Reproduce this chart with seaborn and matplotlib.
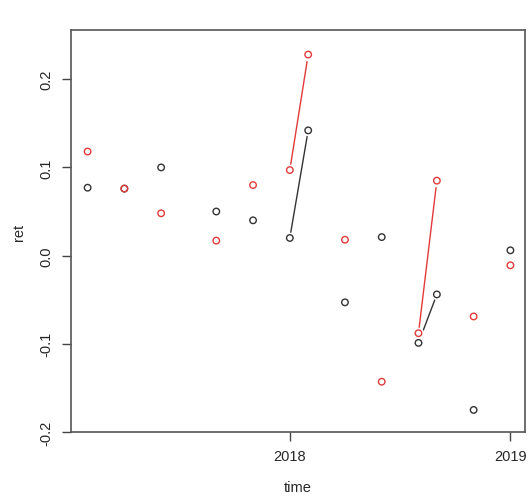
import numpy as np
import pandas as pd
import seaborn as sns
import matplotlib
matplotlib.use("Agg")
import matplotlib.pyplot as plt

# monthly series, Feb 2017 .. Jan 2019 (NaN = no observation)
months = np.arange(1, 25)
ret_black = [0.077, np.nan, 0.076, np.nan, 0.100, np.nan, np.nan, 0.050, np.nan, 0.040, np.nan, 0.020,
             0.142, np.nan, -0.053, np.nan, 0.021, np.nan, -0.099, -0.044, np.nan, -0.175, np.nan, 0.006]
ret_red = [0.118, np.nan, 0.076, np.nan, 0.048, np.nan, np.nan, 0.017, np.nan, 0.080, np.nan, 0.097,
           0.228, np.nan, 0.018, np.nan, -0.143, np.nan, -0.088, 0.085, np.nan, -0.069, np.nan, -0.011]
yticks = [-0.2, -0.1, 0.0, 0.1, 0.2]
ytick_labels = ["-0.2", "-0.1", "0.0", "0.1", "0.2"]
xticks = [2018, 2019]

time = 2017 + months / 12
df = pd.DataFrame({"time": np.tile(time, 2),
                   "ret": ret_black + ret_red,
                   "series": ["black"] * 24 + ["red"] * 24})

sns.set_style("ticks")
plt.rcParams["font.family"] = ["Liberation Sans", "DejaVu Sans"]

fig = plt.figure(figsize=(5.27, 5.02), dpi=100)
ax = fig.add_axes([0.1347, 0.1375, 0.861, 0.8005])

colors = {"black": "#333333", "red": "#e23a3a"}

# lines (broken at missing months)
for name, vals in [("black", ret_black), ("red", ret_red)]:
    ax.plot(time, vals, color=colors[name], lw=1.0, zorder=1)

pts = df.dropna()
# white halo so lines stop short of the circles, like R type="b"
sns.scatterplot(data=pts, x="time", y="ret", color="white", s=70, edgecolor="white",
                linewidth=0, ax=ax, zorder=2, legend=False)
sns.scatterplot(data=pts, x="time", y="ret", hue="series", palette=colors, s=22,
                facecolor="none", linewidth=1.0, ax=ax, zorder=3, legend=False)
for c in ax.collections[1:]:
    c.set_facecolor("none")
    c.set_edgecolors([colors[s] for s in pts["series"]])

ax.set_xlim(2017.008, 2019.065)
ax.set_ylim(-0.2, 0.2557)
ax.set_xticks(xticks)
ax.set_xticklabels([str(x) for x in xticks])
ax.set_yticks(yticks)
ax.set_yticklabels(ytick_labels, rotation=90, va="center")
ax.tick_params(axis="both", length=6.5, width=1, color="#444444", labelsize=10.5, pad=6)
for sp in ax.spines.values():
    sp.set_color("#555555")
    sp.set_linewidth(1.2)
    sp.set_visible(True)

ax.set_xlabel("time", fontsize=10.5, labelpad=12)
ax.set_ylabel("ret", fontsize=10.5, labelpad=10)

fig.savefig("out.png", dpi=100)
